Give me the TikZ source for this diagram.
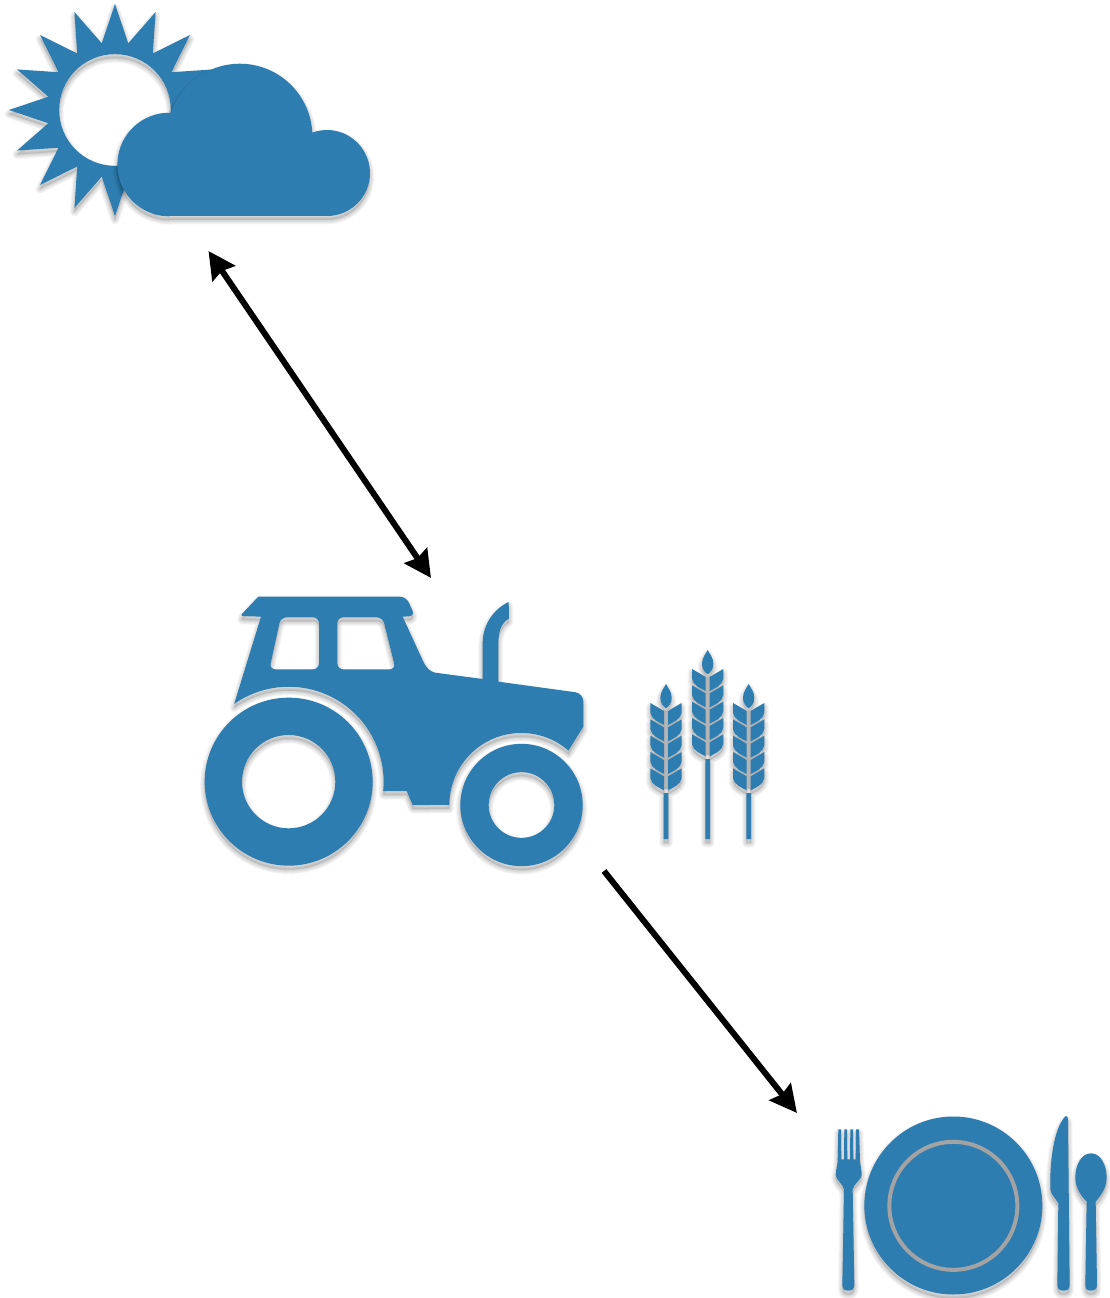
\documentclass[tikz,border=0pt]{standalone}
\usetikzlibrary{arrows.meta}
\definecolor{feltblue}{HTML}{2E7DB1}
\definecolor{ringgray}{HTML}{A3A3A3}
\definecolor{gapgray}{HTML}{B4B4B4}
\tikzset{
  conn/.style={line width=6pt,draw=black,line cap=butt},
  icon area/.style={shift={(#1)},scale=1/3},
  shadowlayer/.style={fill=black,draw=black,even odd rule,line join=round,fill opacity=.02,draw opacity=.03}
}
% shadow + fill of an even-odd silhouette (units: 3x reference pixels)
\newcommand\iconshadow[1]{%
  \foreach \lw in {9,7.5,6,4.5,3,1.5}{%
    \path[shadowlayer,line width=\lw pt,yshift=-12pt] #1;}%
}
\newcommand\iconfill[1]{\fill[feltblue,even odd rule] #1;}
\newcommand\icon[1]{\iconshadow{#1}\iconfill{#1}}
\newcommand\sunpath{(345,-12)
  \foreach \i in {0,...,15}{
    -- ({345+204*sin(\i*22.5+11.25)},{-330+204*cos(\i*22.5+11.25)})
    -- ({345+318*sin((\i+1)*22.5)},{-330+318*cos((\i+1)*22.5)})
  } -- cycle
  (345,-330) circle[radius=167.5pt]}
\newcommand\cloudpath{(507,-648) -- (981,-648)
  arc[start angle=-90,end angle=110,radius=129pt]
  arc[start angle=3,end angle=161,radius=218pt]
  arc[start angle=88,end angle=270,radius=155.4pt] -- cycle}
\newcommand\tractorpath{(205,-50) [rounded corners=6pt] -- (648,-50) -- (675,-108) [sharp corners] -- (638,-110)
  -- (700,-245) .. controls (710,-265) and (720,-274) .. (735,-278)
  -- (878,-297) -- (878,-190) .. controls (878,-130) and (915,-85) .. (956,-66)
  -- (957,-115) .. controls (935,-130) and (925,-150) .. (925,-190) -- (925,-305)
  [rounded corners=8pt] -- (1180,-340) [sharp corners] -- (1180,-440) -- (1135.4,-511.7)
  arc[start angle=49.1,end angle=180,radius=216pt]
  -- (668,-675) -- (650,-633) -- (579.6,-633)
  arc[start angle=-5.6,end angle=125,radius=285pt]
  -- (213,-110) [rounded corners=3pt] -- (150,-108) [sharp corners] -- cycle
  [rounded corners=6pt] (272,-112) -- (387,-112) -- (387,-268) -- (238,-268) -- cycle
  (442,-112) -- (578,-112) -- (617,-268) -- (442,-268) -- cycle [sharp corners]
  (296,-605) circle[radius=252pt] (296,-605) circle[radius=140pt]
  (994.5,-675) circle[radius=183.5pt] (994.5,-675) circle[radius=98.5pt]}
% one ear of wheat: centre x, y of the first grain tip
\newcommand\wheatpath[2]{
  ({#1},{-#2-16}) .. controls ({#1+9},{-#2-10}) and ({#1+17},{-#2}) .. ({#1+17},{-#2+16})
  .. controls ({#1+17},{-#2+34}) and ({#1+6},{-#2+45}) .. ({#1},{-#2+57})
  .. controls ({#1-6},{-#2+45}) and ({#1-17},{-#2+34}) .. ({#1-17},{-#2+16})
  .. controls ({#1-17},{-#2}) and ({#1-9},{-#2-10}) .. ({#1},{-#2-16}) -- cycle
  \foreach \r in {0,...,4}{\foreach \sd in {1,-1}{
    ({#1+\sd*47},{-#2-\r*49}) -- ({#1+\sd*6},{-#2-\r*49-24}) -- ({#1+\sd*6},{-#2-\r*49-66})
    .. controls ({#1+\sd*20},{-#2-\r*49-58}) and ({#1+\sd*44},{-#2-\r*49-50}) .. ({#1+\sd*47},{-#2-\r*49-29}) -- cycle
  }}
  ({#1-7},{-#2-270}) rectangle ({#1+7},-597)}
\newcommand\allwheat{\wheatpath{108}{189} \wheatpath{233}{87} \wheatpath{356}{189}}
% grey showing through the gaps between the grains
\newcommand\wheatback[2]{
  ({#1+6},{-#2-24}) -- ({#1+34},{-#2-8}) -- ({#1+34},{-#2-241}) -- ({#1+6},{-#2-258})
  -- ({#1-6},{-#2-258}) -- ({#1-34},{-#2-241}) -- ({#1-34},{-#2-8}) -- ({#1-6},{-#2-24}) -- cycle}
\newcommand\cutlerypath{
  (40,-88) -- (48,-88) -- (49,-178) -- (57,-178) -- (58,-88) -- (66,-88) -- (67,-178) -- (75,-178)
  -- (76,-88) -- (84,-88) -- (85,-178) -- (92,-178) -- (93,-88) -- (102,-88) -- (105,-185)
  .. controls (108,-205) and (110,-215) .. (110,-225) .. controls (108,-240) and (88,-250) .. (83,-268)
  -- (88,-555) .. controls (88,-568) and (80,-572) .. (70,-572) .. controls (60,-572) and (52,-568) .. (52,-555)
  -- (57,-268) .. controls (52,-250) and (33,-240) .. (32,-225) .. controls (32,-215) and (35,-205) .. (38,-185) -- cycle
  (385,-316.5) circle[radius=267pt]
  (722,-48) .. controls (727,-48) and (729,-52) .. (729,-60) -- (734,-555)
  .. controls (734,-568) and (726,-572) .. (716,-572) .. controls (706,-572) and (697,-568) .. (697,-555)
  -- (700,-310) .. controls (692,-295) and (678,-285) .. (676,-268)
  .. controls (674,-190) and (685,-85) .. (722,-48) -- cycle
  (798,-160) .. controls (827,-160) and (845,-195) .. (845,-232) .. controls (845,-265) and (825,-290) .. (812,-305)
  -- (816,-555) .. controls (816,-568) and (808,-572) .. (798,-572) .. controls (788,-572) and (781,-568) .. (781,-555)
  -- (785,-305) .. controls (770,-290) and (751,-265) .. (751,-232) .. controls (751,-195) and (769,-160) .. (798,-160) -- cycle}
\begin{document}
\begin{tikzpicture}[x=1pt,y=1pt]
  \useasboundingbox (0,0) rectangle (1110,-1298);
  % weather
  \begin{scope}[icon area={0,0}]
    \icon{\sunpath}
    \icon{\cloudpath}
  \end{scope}
  % tractor
  \begin{scope}[icon area={190,-580}]
    \icon{\tractorpath}
  \end{scope}
  % wheat
  \begin{scope}[icon area={630,-640}]
    \iconshadow{\allwheat}
    \fill[gapgray] \wheatback{108}{189} \wheatback{233}{87} \wheatback{356}{189};
    \iconfill{\allwheat}
  \end{scope}
  % place setting
  \begin{scope}[icon area={825,-1100}]
    \iconshadow{\cutlerypath}
    \iconfill{\cutlerypath}
    \draw[ringgray,line width=4pt] (385,-317.5) circle[radius=192pt];
  \end{scope}
  % connectors
  \coordinate (weatherEnd) at (208.5,-251);
  \coordinate (tractorTop) at (431,-578);
  \coordinate (tractorBottom) at (604,-871);
  \coordinate (plateEnd) at (797,-1113);
  \draw[conn,{Stealth[length=27pt,width=27pt,inset=3pt]}-{Stealth[length=27pt,width=27pt,inset=3pt]}] (weatherEnd) -- (tractorTop);
  \draw[conn,-{Stealth[length=27pt,width=27pt,inset=3pt]}] (tractorBottom) -- (plateEnd);
\end{tikzpicture}
\end{document}
